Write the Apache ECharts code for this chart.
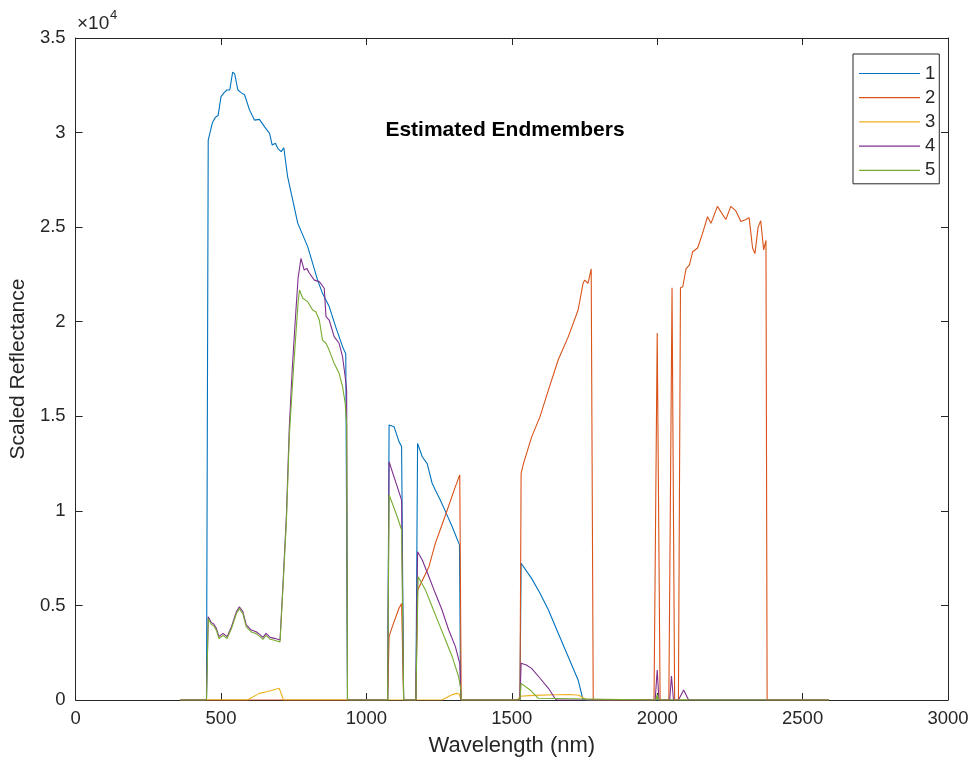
<!DOCTYPE html>
<html>
<head>
<meta charset="utf-8">
<script src="https://cdn.jsdelivr.net/npm/echarts@6/dist/echarts.min.js"></script>
<style>
html,body{margin:0;padding:0;background:#fff;}
#chart{width:980px;height:763px;}
</style>
</head>
<body>
<div id="chart"></div>
<script>
// ---- data (wavelength nm, scaled reflectance) ----
const seriesNames = ['1', '2', '3', '4', '5'];
const xTicks = [0, 500, 1000, 1500, 2000, 2500, 3000];
const yTicks = [0, 5000, 10000, 15000, 20000, 25000, 30000, 35000];

const em1 = [[360,0],[450,0],[456,29600],[470,30500],[480,30800],[490,30900],[500,31900],[510,32100],[520,32250],[530,32250],[540,33200],[547,33100],[558,32250],[570,32100],[581,32000],[598,31200],[615,30660],[632,30700],[650,30300],[667,29960],[676,29340],[687,29430],[695,29170],[707,28990],[716,29200],[729,27670],[747,26400],[764,25200],[781,24590],[798,23970],[815,23100],[832,22200],[849,21500],[872,20800],[895,19700],[918,18680],[929,18300],[932,18300],[935,0],[1073,0],[1078,14540],[1095,14450],[1112,13660],[1121,13400],[1128,0],[1170,0],[1176,13570],[1192,12860],[1209,12500],[1226,11460],[1237,11100],[1254,10570],[1272,9960],[1295,9160],[1320,8200],[1324,0],[1528,0],[1532,7230],[1568,6430],[1597,5640],[1626,4760],[1660,3520],[1694,2290],[1728,1060],[1745,0],[2590,0]];

const em2 = [[360,0],[1073,0],[1078,3350],[1089,3880],[1112,4850],[1121,5100],[1128,0],[1170,0],[1176,5800],[1215,7050],[1237,8280],[1272,9780],[1306,11280],[1321,11900],[1326,0],[1528,0],[1532,11980],[1540,12500],[1568,13900],[1597,14980],[1626,16400],[1660,18000],[1694,19200],[1728,20620],[1745,22030],[1751,22200],[1762,22030],[1773,22800],[1780,0],[1989,0],[2000,19400],[2010,0],[2040,0],[2051,21800],[2060,0],[2073,0],[2080,21800],[2088,21850],[2099,22800],[2111,23000],[2122,23700],[2139,23900],[2156,24670],[2173,25550],[2185,25200],[2207,26100],[2236,25400],[2253,26100],[2270,25870],[2276,25940],[2288,25300],[2305,25400],[2316,25500],[2328,23900],[2336,23600],[2347,25000],[2356,25340],[2366,23800],[2374,24300],[2378,0],[2590,0]];

const em3 = [[360,0],[590,0],[632,350],[660,450],[700,620],[715,0],[1260,0],[1290,250],[1310,350],[1320,300],[1325,0],[1518,0],[1530,200],[1560,230],[1600,260],[1650,280],[1700,290],[1730,250],[1760,0],[1994,0],[1999,200],[2004,0],[2590,0]];

const em4 = [[360,0],[450,0],[456,4400],[467,4090],[475,4020],[484,3790],[493,3350],[507,3520],[521,3350],[536,3880],[553,4670],[563,4930],[575,4670],[587,3970],[604,3700],[621,3610],[635,3440],[644,3310],[655,3520],[669,3310],[684,3260],[703,3170],[715,6700],[725,9800],[735,14500],[745,17500],[755,20000],[765,22300],[775,23350],[786,22730],[795,22820],[804,22560],[821,22200],[838,22120],[855,21770],[861,20270],[872,20090],[889,19210],[906,18860],[918,18150],[927,17090],[932,16390],[935,0],[1073,0],[1078,12600],[1089,12070],[1106,11280],[1121,10570],[1128,0],[1170,0],[1176,7840],[1192,7400],[1215,6520],[1237,5640],[1260,4760],[1283,3700],[1306,2820],[1321,1940],[1325,0],[1528,0],[1532,1940],[1550,1850],[1568,1670],[1597,1150],[1626,620],[1648,90],[1655,0],[1993,0],[2000,1590],[2006,0],[2043,0],[2049,1270],[2056,0],[2073,0],[2091,530],[2108,0],[2590,0]];

const em5 = [[360,0],[450,0],[456,4300],[467,3990],[475,3920],[484,3690],[493,3250],[507,3420],[521,3250],[536,3780],[553,4570],[563,4830],[575,4570],[587,3870],[604,3600],[621,3510],[635,3340],[644,3210],[655,3420],[669,3210],[684,3160],[703,3070],[715,6500],[725,9500],[735,14000],[745,16500],[755,18800],[765,21000],[770,21680],[781,21240],[786,21320],[798,21060],[815,20620],[826,20530],[838,20090],[849,19030],[861,18860],[872,18500],[889,17800],[906,17270],[918,16570],[927,15690],[932,14600],[935,0],[1073,0],[1078,10840],[1089,10400],[1106,9690],[1121,8990],[1128,0],[1170,0],[1178,6520],[1203,5820],[1226,4930],[1249,4050],[1272,3170],[1295,2290],[1317,1230],[1324,620],[1326,0],[1528,0],[1532,880],[1563,530],[1591,90],[1595,0],[1996,0],[2000,300],[2004,0],[2590,0]];

const colors = ['#0072BD', '#D95319', '#EDB120', '#7E2F8E', '#77AC30'];
const allData = [em1, em2, em3, em4, em5];

const FONT = '"Liberation Sans", Arial, Helvetica, sans-serif';
const AXC = '#262626';

const chart = echarts.init(document.getElementById('chart'), null, {renderer: 'canvas'});

const axisCommonX = {
  type: 'value', min: xTicks[0], max: xTicks[xTicks.length - 1], interval: 500,
  splitLine: {show: false},
  axisLine: {show: true, onZero: false, lineStyle: {color: AXC, width: 1}},
  axisTick: {show: true, inside: true, length: 7, lineStyle: {color: AXC}}
};
const axisCommonY = {
  type: 'value', min: yTicks[0], max: yTicks[yTicks.length - 1], interval: 5000,
  splitLine: {show: false},
  axisLine: {show: true, onZero: false, lineStyle: {color: AXC, width: 1}},
  axisTick: {show: true, inside: true, length: 7, lineStyle: {color: AXC}}
};

chart.setOption({
  animation: false,
  backgroundColor: '#fff',
  color: colors,
  grid: {left: 72, top: 38, right: 32, bottom: 63, containLabel: false},
  xAxis: [
    Object.assign({}, axisCommonX, {
      position: 'bottom',
      name: 'Wavelength (nm)', nameLocation: 'middle', nameGap: 35,
      nameTextStyle: {fontFamily: FONT, fontSize: 22, color: AXC},
      axisLabel: {show: true, margin: 9, fontFamily: FONT, fontSize: 18.5, color: AXC,
        formatter: v => String(v)}
    }),
    Object.assign({}, axisCommonX, {position: 'top', axisLabel: {show: false}})
  ],
  yAxis: [
    Object.assign({}, axisCommonY, {
      position: 'left',
      name: 'Scaled Reflectance', nameLocation: 'middle', nameGap: 40,
      nameTextStyle: {fontFamily: FONT, fontSize: 21, color: AXC},
      axisLabel: {show: true, margin: 10, fontFamily: FONT, fontSize: 18.5, color: AXC,
        formatter: v => String(v / 10000)}
    }),
    Object.assign({}, axisCommonY, {position: 'right', axisLabel: {show: false}})
  ],
  legend: {
    data: seriesNames,
    orient: 'vertical',
    left: 853, top: 54,
    padding: [10, 4, 4, 6],
    icon: 'path://M0,0H61V1.2H0Z',
    itemWidth: 61, itemHeight: 14, itemGap: 5.2,
    backgroundColor: '#fff',
    borderColor: AXC, borderWidth: 1, borderRadius: 0,
    textStyle: {fontFamily: FONT, fontSize: 18.5, color: AXC}
  },
  graphic: [
    {type: 'text', left: 77, top: 14, style: {text: '×10', font: '19px ' + FONT, fill: AXC}},
    {type: 'text', left: 110, top: 9, style: {text: '4', font: '13px ' + FONT, fill: AXC}},
    {type: 'text', x: 505, y: 130, style: {text: 'Estimated Endmembers', font: 'bold 21px ' + FONT, fill: '#000', align: 'center', verticalAlign: 'middle'}}
  ],
  series: allData.map((d, i) => ({
    name: seriesNames[i],
    type: 'line',
    xAxisIndex: 0, yAxisIndex: 0,
    data: d,
    symbol: 'none',
    lineStyle: {width: 1.1, color: colors[i]},
    itemStyle: {color: colors[i]},
    emphasis: {disabled: true}
  }))
});
</script>
</body>
</html>
